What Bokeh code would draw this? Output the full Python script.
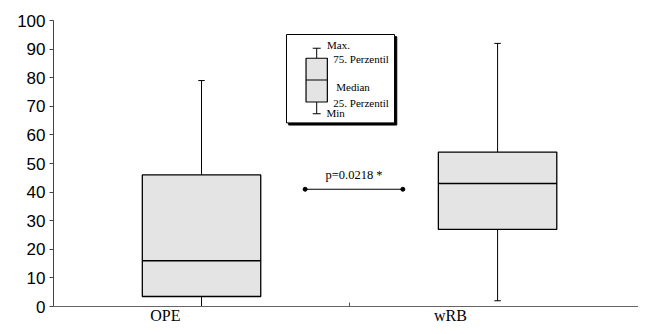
from bokeh.plotting import figure
from bokeh.models import Range1d, FixedTicker, ColumnDataSource
from bokeh.core.properties import value
from bokeh.embed import file_html
from bokeh.resources import INLINE

# ---- data ----
categories = ["OPE", "wRB"]
x_pos = [0.5, 1.5]
mins = [0.0, 2.0]
q1 = [3.5, 27.0]
medians = [16.0, 43.0]
q3 = [46.0, 54.0]
maxs = [79.0, 92.0]
y_ticks = [0, 10, 20, 30, 40, 50, 60, 70, 80, 90, 100]
p_text = "p=0.0218 *"
p_bar_x = [0.85, 1.18]
p_bar_y = [41.0, 41.0]

# ---- style / layout constants ----
BOX_W = 0.40
CAP_W = 0.022
FILL = "#e4e4e4"
label_pos = [0.378, 1.341]   # where the category labels sit under the axis

# key (legend) illustration, in data units
KEY = dict(x0=0.787, x1=1.152, y0=64.2, y1=95.1,
           cx=0.889, bw=0.072, lo=67.4, q1=71.5, med=79.2, q3=86.8, hi=90.3, cap=0.027)
key_texts = ["Max.", "75. Perzentil", "Median", "25. Perzentil", "Min"]
key_text_x = [0.924, 0.945, 0.955, 0.945, 0.922]
key_text_y = [91.3, 86.6, 76.7, 71.2, 67.7]

p = figure(width=638, height=326, output_backend="svg", toolbar_location=None,
           x_range=Range1d(0, 1.976), y_range=Range1d(0, 100),
           min_border_left=53, min_border_right=0, min_border_top=20, min_border_bottom=18)
p.grid.visible = False
p.outline_line_color = None
p.background_fill_color = "white"
p.border_fill_color = "white"

# axes
ya = p.yaxis[0]
ya.ticker = FixedTicker(ticks=y_ticks, minor_ticks=[])
ya.major_tick_in = 0
ya.major_tick_out = 4
ya.major_label_standoff = 4
ya.major_label_text_font = "Liberation Sans"
ya.major_label_text_font_size = "17px"
ya.major_label_text_color = "black"
ya.axis_line_color = "#444444"
ya.major_tick_line_color = "#444444"

xa = p.xaxis[0]
xa.ticker = FixedTicker(ticks=label_pos, minor_ticks=[1.0])
xa.major_label_overrides = {label_pos[0]: categories[0], label_pos[1]: categories[1]}
xa.major_tick_line_color = None
xa.major_tick_in = 0
xa.major_tick_out = 0
xa.minor_tick_in = 4
xa.minor_tick_out = 0
xa.minor_tick_line_color = "#555555"
xa.major_label_standoff = 0
xa.major_label_text_font = "Liberation Serif"
xa.major_label_text_font_size = "16px"
xa.major_label_text_color = "black"
xa.axis_line_color = "#666666"

# boxes
src = ColumnDataSource(dict(x=x_pos, mins=mins, q1=q1, med=medians, q3=q3, maxs=maxs,
                            cl=[x - CAP_W / 2 for x in x_pos], cr=[x + CAP_W / 2 for x in x_pos],
                            bl=[x - BOX_W / 2 for x in x_pos], br=[x + BOX_W / 2 for x in x_pos]))
p.segment(x0="x", y0="q3", x1="x", y1="maxs", source=src, line_color="black", line_width=1)
p.segment(x0="x", y0="q1", x1="x", y1="mins", source=src, line_color="black", line_width=1)
p.segment(x0="cl", y0="maxs", x1="cr", y1="maxs", source=src, line_color="black", line_width=1)
p.segment(x0="cl", y0="mins", x1="cr", y1="mins", source=src, line_color="black", line_width=1)
p.quad(left="bl", right="br", bottom="q1", top="q3", source=src,
       fill_color=FILL, line_color="black", line_width=1.3)
p.segment(x0="bl", y0="med", x1="br", y1="med", source=src, line_color="black", line_width=1.3)

# significance bar
p.line(p_bar_x, p_bar_y, line_color="black", line_width=1.2)
p.scatter(p_bar_x, p_bar_y, size=4, color="black")
p.text(x=[(p_bar_x[0] + p_bar_x[1]) / 2], y=[p_bar_y[0] + 2.6], text=[p_text],
       text_font=value("Liberation Serif"), text_font_size="12.5px",
       text_align="center", text_baseline="bottom", text_color="black")

# key box with shadow
dx, dy = 0.0075, 0.75
p.quad(left=[KEY["x0"] + dx], right=[KEY["x1"] + dx], bottom=[KEY["y0"] - dy], top=[KEY["y1"] - dy],
       fill_color="black", line_color="black")
p.quad(left=[KEY["x0"]], right=[KEY["x1"]], bottom=[KEY["y0"]], top=[KEY["y1"]],
       fill_color="white", line_color="black", line_width=1)
cx = KEY["cx"]
p.segment(x0=[cx, cx, cx - KEY["cap"] / 2, cx - KEY["cap"] / 2],
          y0=[KEY["q3"], KEY["q1"], KEY["hi"], KEY["lo"]],
          x1=[cx, cx, cx + KEY["cap"] / 2, cx + KEY["cap"] / 2],
          y1=[KEY["hi"], KEY["lo"], KEY["hi"], KEY["lo"]], line_color="black", line_width=1)
p.quad(left=[cx - KEY["bw"] / 2], right=[cx + KEY["bw"] / 2], bottom=[KEY["q1"]], top=[KEY["q3"]],
       fill_color=FILL, line_color="black", line_width=1.2)
p.segment(x0=[cx - KEY["bw"] / 2], y0=[KEY["med"]], x1=[cx + KEY["bw"] / 2], y1=[KEY["med"]],
          line_color="black", line_width=1.2)
p.text(x=key_text_x, y=key_text_y, text=key_texts, text_font=value("Liberation Serif"),
       text_font_size="11px", text_align="left", text_baseline="middle", text_color="black")

open("out.html", "w").write(file_html(p, INLINE))
